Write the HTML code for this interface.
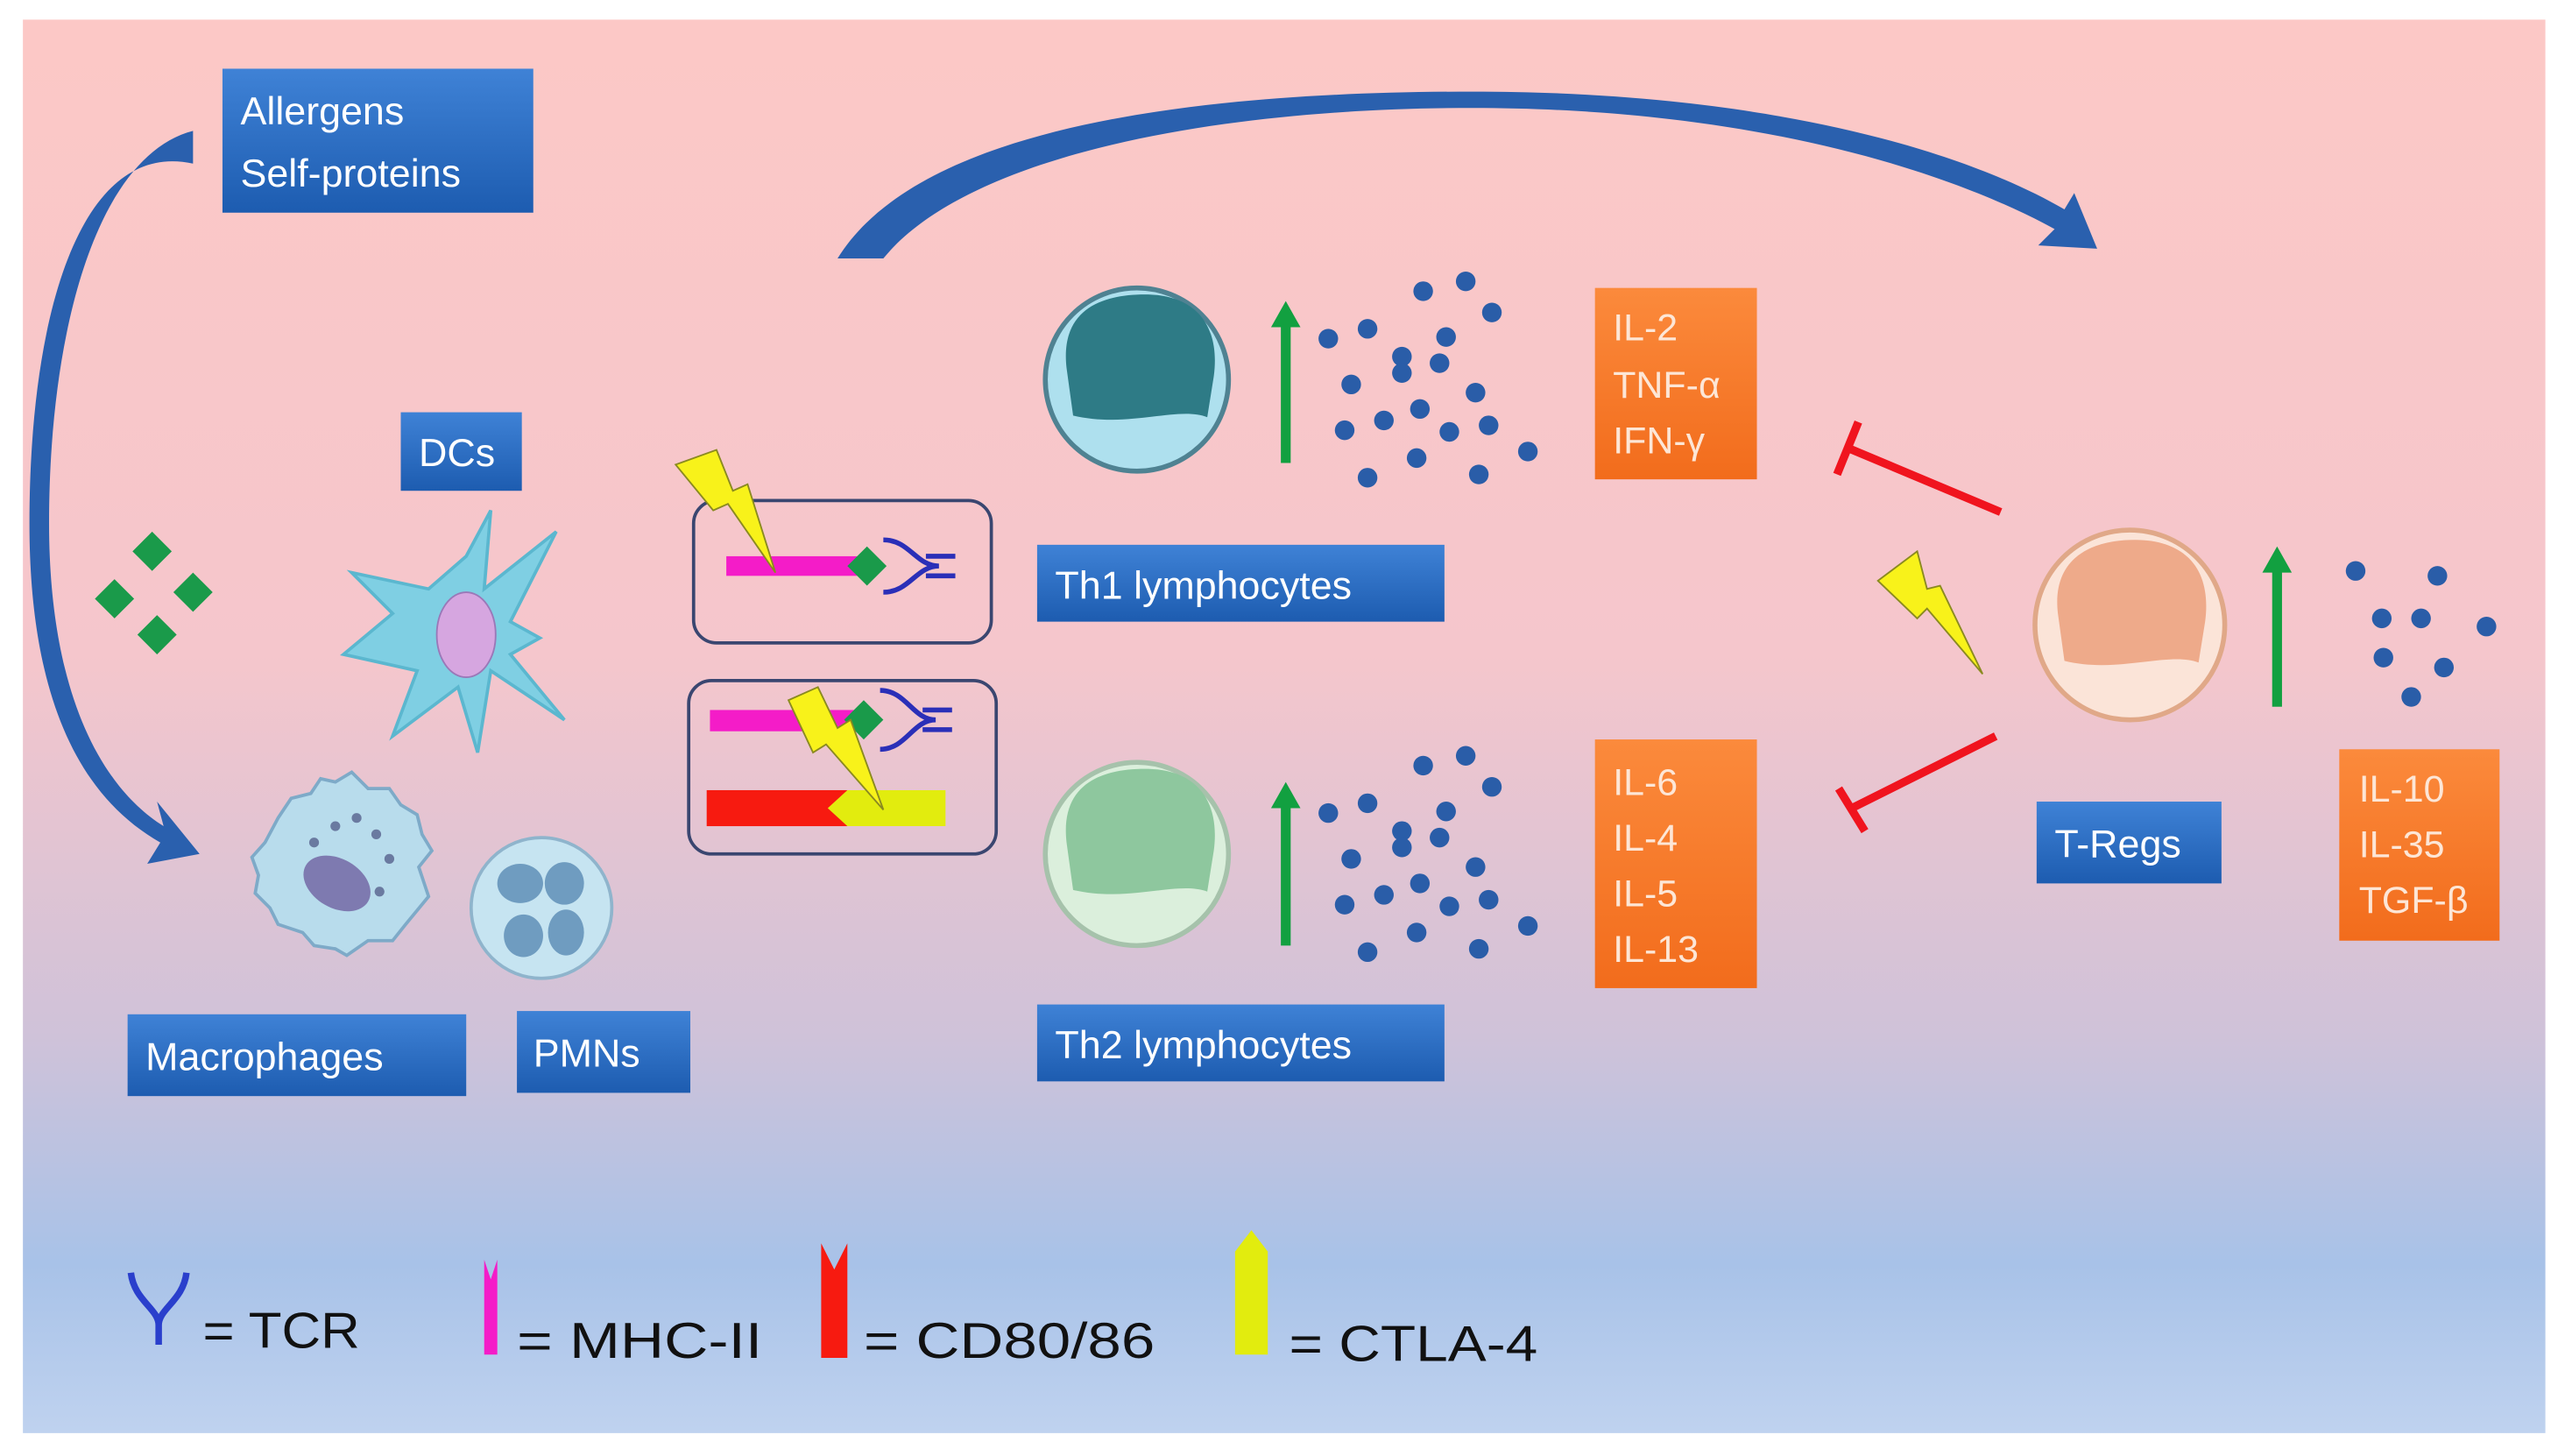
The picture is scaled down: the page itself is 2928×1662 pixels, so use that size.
<!DOCTYPE html>
<html><head><meta charset="utf-8"><style>
html,body{margin:0;padding:0;background:#fff}
svg{display:block}
text{font-family:"Liberation Sans",sans-serif}
</style></head><body>
<svg width="2928" height="1662" viewBox="0 0 1568 890" preserveAspectRatio="none" xmlns="http://www.w3.org/2000/svg">
<defs>
<linearGradient id="bg" x1="0" y1="0" x2="0" y2="1">
<stop offset="0" stop-color="#fcc8c6"/>
<stop offset="0.45" stop-color="#f5c6cc"/>
<stop offset="0.72" stop-color="#cfc2d9"/>
<stop offset="0.88" stop-color="#a8c2e8"/>
<stop offset="1" stop-color="#bfd2ef"/>
</linearGradient>
<linearGradient id="bl" x1="0" y1="0" x2="0" y2="1">
<stop offset="0" stop-color="#3f82d6"/><stop offset="1" stop-color="#1d5cb0"/>
</linearGradient>
<linearGradient id="or" x1="0" y1="0" x2="0" y2="1">
<stop offset="0" stop-color="#fb8a3c"/><stop offset="1" stop-color="#f26c1c"/>
</linearGradient>
</defs>
<rect x="14" y="12" width="1542" height="864" fill="url(#bg)"/>

<!-- curved arrows -->
<path d="M118 80 C60 95 30 200 30 320 C30 420 60 480 100 505 L96 490 L122 522 L90 528 L98 515 C45 485 18 420 18 320 C18 190 50 85 118 100 Z" fill="#2a60ae"/>
<path d="M512 158 C560 80 720 56 900 56 C1080 56 1200 92 1262 128 L1268 118 L1282 152 L1246 150 L1256 140 C1190 104 1070 66 900 66 C740 66 590 96 540 158 Z" fill="#2a60ae"/>

<!-- blue boxes -->
<g fill="url(#bl)">
<rect x="136" y="42" width="190" height="88"/>
<rect x="245" y="252" width="74" height="48"/>
<rect x="78" y="620" width="207" height="50"/>
<rect x="316" y="618" width="106" height="50"/>
<rect x="634" y="333" width="249" height="47"/>
<rect x="634" y="614" width="249" height="47"/>
<rect x="1245" y="490" width="113" height="50"/>
</g>
<g fill="#fff" font-size="24">
<text x="147" y="76">Allergens</text>
<text x="147" y="114">Self-proteins</text>
<text x="256" y="285">DCs</text>
<text x="89" y="654">Macrophages</text>
<text x="326" y="652">PMNs</text>
<text x="645" y="366">Th1 lymphocytes</text>
<text x="645" y="647">Th2 lymphocytes</text>
<text x="1256" y="524">T-Regs</text>
</g>

<!-- orange boxes -->
<g fill="url(#or)">
<rect x="975" y="176" width="99" height="117"/>
<rect x="975" y="452" width="99" height="152"/>
<rect x="1430" y="458" width="98" height="117"/>
</g>
<g fill="#fde6d6" font-size="23">
<text x="986" y="208">IL-2</text><text x="986" y="243">TNF-α</text><text x="986" y="277">IFN-γ</text>
<text x="986" y="486">IL-6</text><text x="986" y="520">IL-4</text><text x="986" y="554">IL-5</text><text x="986" y="588">IL-13</text>
<text x="1442" y="490">IL-10</text><text x="1442" y="524">IL-35</text><text x="1442" y="558">TGF-β</text>
</g>

<!-- diamonds -->
<g fill="#1a9a4a">
<path d="M93 325 L105 337 L93 349 L81 337Z"/>
<path d="M70 354 L82 366 L70 378 L58 366Z"/>
<path d="M118 350 L130 362 L118 374 L106 362Z"/>
<path d="M96 376 L108 388 L96 400 L84 388Z"/>
</g>

<!-- DC -->
<path d="M300 312 L296 360 L340 325 L312 380 L330 390 L312 400 L345 440 L300 410 L292 460 L280 420 L240 450 L255 410 L210 400 L240 375 L215 350 L262 360 L285 340 Z" fill="#7fcfe3" stroke="#5bb7cf" stroke-width="2"/>
<ellipse cx="285" cy="388" rx="18" ry="26" fill="#d6a6e0" stroke="#9a78b8"/>
<!-- macrophage -->
<path d="M170 500 L178 488 L190 485 L196 476 L205 478 L215 472 L225 482 L238 482 L245 492 L255 498 L258 510 L264 520 L256 530 L262 548 L248 565 L240 575 L225 575 L212 584 L205 580 L192 578 L185 570 L170 565 L165 555 L156 546 L158 535 L154 524 L162 515Z" fill="#b8dcec" stroke="#7eaac8" stroke-width="2"/>
<ellipse cx="206" cy="540" rx="22" ry="15" fill="#7e7ab0" transform="rotate(30 206 540)"/>
<g fill="#6a7aa0"><circle cx="205" cy="505" r="3"/><circle cx="218" cy="500" r="3"/><circle cx="230" cy="510" r="3"/><circle cx="238" cy="525" r="3"/><circle cx="232" cy="545" r="3"/><circle cx="192" cy="515" r="3"/></g>
<!-- PMN -->
<circle cx="331" cy="555" r="43" fill="#c6e4f1" stroke="#8fb4cc" stroke-width="2"/>
<g fill="#6f9cc0"><ellipse cx="318" cy="540" rx="14" ry="12"/><ellipse cx="345" cy="540" rx="12" ry="13"/><ellipse cx="320" cy="572" rx="12" ry="13"/><ellipse cx="346" cy="570" rx="11" ry="14"/></g>

<!-- synapse boxes -->
<rect x="424" y="306" width="182" height="87" rx="14" fill="none" stroke="#3a4670" stroke-width="2"/>
<rect x="421" y="416" width="188" height="106" rx="14" fill="none" stroke="#3a4670" stroke-width="2"/>
<rect x="444" y="340" width="80" height="12" fill="#f41cc8"/>
<path d="M530 334 L542 346 L530 358 L518 346Z" fill="#1a9a4a"/>
<path d="M540 330 C556 330 560 346 574 346 M540 362 C556 362 560 346 574 346 M566 340 L584 340 M566 352 L584 352" stroke="#2a2fb8" stroke-width="3" fill="none"/>
<rect x="434" y="434" width="88" height="13" fill="#f41cc8"/>
<path d="M528 428 L540 440 L528 452 L516 440Z" fill="#1a9a4a"/>
<path d="M538 422 C554 422 558 440 572 440 M538 458 C554 458 558 440 572 440 M564 434 L582 434 M564 446 L582 446" stroke="#2a2fb8" stroke-width="3" fill="none"/>
<rect x="432" y="483" width="86" height="22" fill="#f71a10"/>
<path d="M518 483 L578 483 L578 505 L518 505 L506 494Z" fill="#e2ec0e"/>

<!-- lightning -->
<g fill="#f8f21a" stroke="#8a8a20" stroke-width="1">
<path d="M413 284 L438 275 L448 300 L457 296 L474 350 L445 308 L436 312Z"/>
<path d="M482 428 L500 420 L512 445 L520 440 L540 495 L505 455 L497 460Z"/>
<path d="M1148 355 L1172 337 L1178 360 L1186 358 L1212 412 L1178 372 L1172 378Z"/>
</g>

<!-- cells -->
<circle cx="695" cy="232" r="56" fill="#aee0ee" stroke="#4f8292" stroke-width="3"/>
<path d="M652 225 C648 190 672 180 700 180 C732 180 746 200 742 230 L738 255 C720 248 690 262 656 254 Z" fill="#2e7b86"/>
<circle cx="695" cy="522" r="56" fill="#dbefdc" stroke="#a6c2ab" stroke-width="3"/>
<path d="M652 515 C648 480 672 470 700 470 C732 470 746 490 742 520 L738 545 C720 538 690 552 656 544 Z" fill="#8ec79e"/>
<circle cx="1302" cy="382" r="58" fill="#fbe4d8" stroke="#e0a888" stroke-width="3"/>
<path d="M1258 375 C1254 340 1280 330 1305 330 C1338 330 1352 350 1348 380 L1344 405 C1326 398 1294 412 1262 404 Z" fill="#eeaa8a"/>

<!-- green arrows -->
<g fill="#12a040">
<rect x="783" y="198" width="6" height="85"/><path d="M777 200 L786 184 L795 200Z"/>
<rect x="783" y="492" width="6" height="86"/><path d="M777 494 L786 478 L795 494Z"/>
<rect x="1389" y="348" width="6" height="84"/><path d="M1383 350 L1392 334 L1401 350Z"/>
</g>

<!-- dots -->
<g fill="#2a5da8" id="d1">
<circle cx="812" cy="207" r="6"/><circle cx="836" cy="201" r="6"/><circle cx="870" cy="178" r="6"/><circle cx="896" cy="172" r="6"/><circle cx="912" cy="191" r="6"/>
<circle cx="857" cy="218" r="6"/><circle cx="884" cy="206" r="6"/><circle cx="826" cy="235" r="6"/><circle cx="857" cy="228" r="6"/><circle cx="880" cy="222" r="6"/>
<circle cx="902" cy="240" r="6"/><circle cx="822" cy="263" r="6"/><circle cx="846" cy="257" r="6"/><circle cx="868" cy="250" r="6"/><circle cx="886" cy="264" r="6"/>
<circle cx="910" cy="260" r="6"/><circle cx="934" cy="276" r="6"/><circle cx="836" cy="292" r="6"/><circle cx="866" cy="280" r="6"/><circle cx="904" cy="290" r="6"/>
</g>
<use href="#d1" y="290"/>
<g fill="#2a5da8">
<circle cx="1440" cy="349" r="6"/><circle cx="1490" cy="352" r="6"/><circle cx="1456" cy="378" r="6"/><circle cx="1480" cy="378" r="6"/><circle cx="1520" cy="383" r="6"/><circle cx="1457" cy="402" r="6"/><circle cx="1494" cy="408" r="6"/><circle cx="1474" cy="426" r="6"/>
</g>

<!-- inhibitors -->
<g stroke="#f0141e" stroke-width="5" fill="none">
<path d="M1223 313 L1130 274"/><path d="M1123 290 L1136 258"/>
<path d="M1220 450 L1132 494"/><path d="M1124 482 L1140 508"/>
</g>

<!-- legend -->
<path d="M80 778 C82 795 97 800 97 810 L97 822 M114 778 C112 795 97 800 97 810" stroke="#2a3fcc" stroke-width="4" fill="none"/>
<path d="M296 828 L296 770 L300 782 L304 770 L304 828Z" fill="#f41cc8"/>
<path d="M502 830 L502 760 L510 776 L518 760 L518 830Z" fill="#f71a10"/>
<path d="M755 828 L755 765 L765 752 L775 765 L775 828Z" fill="#e2ec0e"/>
<g font-size="31" fill="#111">
<text x="124" y="824" textLength="96" lengthAdjust="spacingAndGlyphs">= TCR</text>
<text x="316" y="830" textLength="150" lengthAdjust="spacingAndGlyphs">= MHC-II</text>
<text x="528" y="830" textLength="178" lengthAdjust="spacingAndGlyphs">= CD80/86</text>
<text x="788" y="832" textLength="152" lengthAdjust="spacingAndGlyphs">= CTLA-4</text>
</g>
</svg>
</body></html>
